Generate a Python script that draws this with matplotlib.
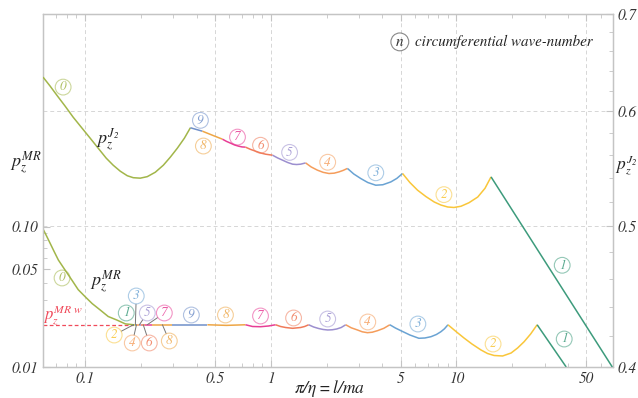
# Buckling pressure envelopes, p_z^J2 (right axis) and p_z^MR (left axis)
import matplotlib as mpl
import matplotlib.pyplot as plt
import matplotlib.ticker as mtick
from matplotlib.colors import to_rgba

mpl.rcParams['font.family'] = 'STIXGeneral'
mpl.rcParams['mathtext.fontset'] = 'stix'
mpl.rcParams['font.style'] = 'italic'
mpl.rcParams['font.size'] = 10.5

# colour of each circumferential wave-number n
mode_colors = {0: '#a2b64a', 1: '#3d9b7c', 2: '#f9c63a', 3: '#6aa3d3', 4: '#f59d5b',
               5: '#9c8fcf', 6: '#f07b5a', 7: '#e83e96', 8: '#eea645', 9: '#6f8fc9'}

# upper curve p_z^J2 (right axis), one segment per mode
j2_modes = [0, 9, 8, 7, 6, 5, 4, 3, 2, 1]
j2_x = [[0.0597, 0.0652, 0.0711, 0.0785, 0.0867, 0.0958, 0.1071, 0.1182, 0.1306, 0.1424,
         0.1554, 0.1695, 0.1826, 0.1991, 0.2172, 0.2399, 0.2650, 0.2890, 0.3153, 0.3439, 0.3705],
        [0.3705, 0.4300],
        [0.4300, 0.4869, 0.5510],
        [0.5510, 0.5793, 0.6091, 0.6395, 0.6722, 0.7022, 0.7330],
        [0.7330, 0.7800, 0.830, 0.8834, 0.940, 1.025],
        [1.025, 1.091, 1.161, 1.235, 1.314, 1.381, 1.451, 1.544],
        [1.544, 1.653, 1.786, 1.919, 2.062, 2.199, 2.334, 2.459, 2.591],
        [2.591, 2.802, 3.056, 3.334, 3.681, 4.017, 4.436, 4.778, 5.129],
        [5.129, 5.615, 6.177, 6.848, 7.591, 8.250, 8.966, 9.694, 10.575, 11.679, 13.014, 14.241, 15.346],
        [15.346, 68.9]]
j2_y = [[0.6334, 0.6244, 0.6151, 0.6049, 0.5944, 0.5851, 0.5749, 0.5659, 0.5570, 0.5508,
         0.5456, 0.5417, 0.5400, 0.5396, 0.5409, 0.5447, 0.5508, 0.5579, 0.5659, 0.5749, 0.5845],
        [0.5845, 0.5813],
        [0.5813, 0.5776, 0.5740],
        [0.5740, 0.5720, 0.5704, 0.5688, 0.5677, 0.5670, 0.5668],
        [0.5668, 0.5648, 0.5632, 0.5616, 0.5605, 0.5596],
        [0.5596, 0.5572, 0.5552, 0.5532, 0.5517, 0.5514, 0.5517, 0.5528],
        [0.5528, 0.5493, 0.5465, 0.5446, 0.5436, 0.5439, 0.5450, 0.5463, 0.5480],
        [0.5480, 0.5432, 0.5393, 0.5359, 0.5336, 0.5340, 0.5364, 0.5394, 0.5436],
        [0.5436, 0.5359, 0.5294, 0.5241, 0.5196, 0.5171, 0.5155, 0.5151, 0.5161, 0.5190, 0.5237, 0.5310, 0.5407],
        [0.5407, 0.4]]

# lower curve p_z^MR (left axis)
mr_modes = [0, 1, 2, 3, 4, 5, 6, 7, 8, 9, 8, 7, 6, 5, 4, 3, 2, 1]
mr_x = [[0.0597, 0.0620, 0.0652, 0.0685, 0.0722, 0.0775, 0.0853, 0.0923, 0.1006, 0.1098,
         0.1212, 0.1339, 0.1492, 0.1653, 0.1830],
        [0.1830, 0.1850], [0.1850, 0.1874], [0.1874, 0.1900], [0.1900, 0.1969],
        [0.1969, 0.2016], [0.2016, 0.2119], [0.2119, 0.2303], [0.2303, 0.2962],
        [0.2962, 0.4574],
        [0.4574, 0.579, 0.733],
        [0.733, 0.800, 0.883, 0.9755, 1.064],
        [1.064, 1.132, 1.205, 1.314, 1.451, 1.525, 1.603],
        [1.603, 1.705, 1.815, 1.919, 2.029, 2.146, 2.269, 2.399, 2.537],
        [2.537, 2.716, 2.934, 3.113, 3.321, 3.526, 3.760, 4.067, 4.381],
        [4.381, 4.691, 5.022, 5.615, 6.278, 6.765, 7.289, 7.801, 8.250, 8.616, 9.000],
        [9.000, 9.938, 10.975, 12.121, 13.554, 14.693, 15.93, 17.70, 19.67, 21.32, 23.11, 25.06, 27.16],
        [27.16, 38.93]]
mr_y = [[0.0963, 0.0873, 0.0762, 0.0666, 0.0579, 0.0503, 0.0417, 0.0356, 0.0317, 0.0283,
         0.0255, 0.0229, 0.0216, 0.0203, 0.0200],
        [0.02, 0.02], [0.02, 0.02], [0.02, 0.02], [0.02, 0.02],
        [0.02, 0.02], [0.02, 0.02], [0.02, 0.02], [0.02, 0.02],
        [0.02, 0.02],
        [0.02, 0.0198, 0.02],
        [0.02, 0.01944, 0.01937, 0.0196, 0.02],
        [0.02, 0.01944, 0.01912, 0.01887, 0.01912, 0.01944, 0.02],
        [0.02, 0.01928, 0.01881, 0.01851, 0.01836, 0.01842, 0.01866, 0.01912, 0.02],
        [0.02, 0.01903, 0.01836, 0.01782, 0.01756, 0.01770, 0.01815, 0.01887, 0.02],
        [0.02, 0.01897, 0.01815, 0.01691, 0.01602, 0.01610, 0.01644, 0.01705, 0.01785, 0.01872, 0.02],
        [0.02, 0.01791, 0.01610, 0.01458, 0.01322, 0.01248, 0.01208, 0.01198, 0.01258, 0.01366,
         0.01514, 0.01719, 0.02],
        [0.02, 0.01]]

pz_mr_w = 0.02
pz_mr_w_x = [0.0597, 0.1830]

# circled mode labels: (mode, x, y)
j2_labels = [(0, 0.0766, 0.6234), (9, 0.4195, 0.5914), (8, 0.4352, 0.5678),
             (7, 0.6639, 0.5759), (6, 0.883, 0.5685), (5, 1.266, 0.5621),
             (4, 2.029, 0.5534), (3, 3.681, 0.5442), (2, 8.56, 0.5257), (1, 37.05, 0.470)]
mr_labels = [(0, 0.0756, 0.0431), (1, 0.1674, 0.02426), (9, 0.375, 0.02348),
             (8, 0.572, 0.02348), (7, 0.883, 0.0231), (6, 1.33, 0.02235),
             (5, 2.029, 0.02198), (4, 3.334, 0.02093), (3, 6.20, 0.02025),
             (2, 15.74, 0.01458), (1, 37.98, 0.01583)]
# labels with leader lines: (mode, x, y, x on curve)
mr_leaders = [(3, 0.1895, 0.03207, 0.1874), (5, 0.2173, 0.02426, 0.197),
              (7, 0.2683, 0.02426, 0.217), (2, 0.1442, 0.0169, 0.1830),
              (4, 0.1804, 0.01483, 0.190), (6, 0.2227, 0.01483, 0.2066),
              (8, 0.2854, 0.01532, 0.262)]

grey = '#c4c4c4'


def circ_box(c):
    return dict(boxstyle='circle,pad=0.12', fc='none', ec=to_rgba(c, 0.55), lw=0.8)


fig = plt.figure(figsize=(6.38, 3.98), dpi=100)
ax = fig.add_axes([43 / 638, 31 / 398, 570 / 638, 353 / 398])
ax2 = ax.twinx()

ax.set_xscale('log')
ax.set_yscale('log')
ax2.set_yscale('log')
ax.set_xlim(0.0597, 69.5)
ax.set_ylim(0.01, 3.28)
ax2.set_ylim(0.4, 0.7)

for n, xs, ys in zip(mr_modes, mr_x, mr_y):
    ax.plot(xs, ys, color=mode_colors[n], lw=1.1, solid_capstyle='butt', zorder=3)
for n, xs, ys in zip(j2_modes, j2_x, j2_y):
    ax2.plot(xs, ys, color=mode_colors[n], lw=1.1, solid_capstyle='butt', zorder=3)

ax.plot(pz_mr_w_x, [pz_mr_w, pz_mr_w], color='#f04a5a', lw=0.9, ls=(0, (3, 2)), zorder=2)

for n, x, y in mr_labels:
    c = mode_colors[n]
    ax.text(x, y, str(n), color=to_rgba(c, 0.85), ha='center', va='center',
            fontsize=9.5, bbox=circ_box(c), zorder=4)
for n, x, y, xc in mr_leaders:
    c = mode_colors[n]
    ax.annotate(str(n), xy=(xc, pz_mr_w), xytext=(x, y), color=to_rgba(c, 0.85),
                ha='center', va='center', fontsize=9.5, bbox=circ_box(c), zorder=4,
                arrowprops=dict(arrowstyle='-', color='#777777', lw=0.7, shrinkA=0, shrinkB=0))
for n, x, y in j2_labels:
    c = mode_colors[n]
    ax2.text(x, y, str(n), color=to_rgba(c, 0.85), ha='center', va='center',
             fontsize=9.5, bbox=circ_box(c), zorder=4)

# curve names
ax2.text(0.1322, 0.5732, r'$p_z^{J_2}$', fontsize=13, ha='center', va='center', color='#222222')
ax.text(0.1292, 0.0404, r'$p_z^{MR}$', fontsize=13, ha='center', va='center', color='#222222')
ax.text(0.0766, 0.0235, r'$p_z^{MR\ w}$', fontsize=12, ha='center', va='center', color='#f04a5a')
ax.text(-0.03, 0.578, r'$p_z^{MR}$', transform=ax.transAxes, fontsize=13,
        ha='center', va='center', color='#222222')
ax.text(1.042, 0.572, r'$p_z^{J_2}$', transform=ax.transAxes, fontsize=12.5,
        ha='right', va='center', color='#222222')
ax.text(0.5035, -0.06, r'$\pi/\eta = l/ma$', transform=ax.transAxes, fontsize=12.5,
        ha='center', va='center', color='#222222')

# wave-number legend
ax.text(0.626, 0.921, r'$n$', transform=ax.transAxes, fontsize=11, ha='center', va='center',
        color='#333333', bbox=dict(boxstyle='circle,pad=0.12', fc='none', ec='#888888', lw=0.8))
ax.text(0.652, 0.921, 'circumferential wave-number', transform=ax.transAxes, fontsize=10.8,
        ha='left', va='center', color='#222222')

# ticks
ax.xaxis.set_major_locator(mtick.FixedLocator([0.1, 0.5, 1, 5, 10, 50]))
ax.xaxis.set_major_formatter(mtick.FixedFormatter(['0.1', '0.5', '1', '5', '10', '50']))
ax.xaxis.set_minor_locator(mtick.LogLocator(base=10, subs=range(2, 10), numticks=20))
ax.xaxis.set_minor_formatter(mtick.NullFormatter())
ax.yaxis.set_major_locator(mtick.FixedLocator([0.01, 0.05, 0.1]))
ax.yaxis.set_major_formatter(mtick.FixedFormatter(['0.01', '0.05', '0.10']))
ax.yaxis.set_minor_locator(mtick.FixedLocator([0.02, 0.03, 0.04, 0.06, 0.07, 0.08, 0.09]))
ax.yaxis.set_minor_formatter(mtick.NullFormatter())
ax2.yaxis.set_major_locator(mtick.FixedLocator([0.4, 0.5, 0.6, 0.7]))
ax2.yaxis.set_major_formatter(mtick.FixedFormatter(['0.4', '0.5', '0.6', '0.7']))
ax2.yaxis.set_minor_locator(mtick.FixedLocator([0.42, 0.44, 0.46, 0.48, 0.52, 0.54, 0.56,
                                                0.58, 0.62, 0.64, 0.66, 0.68]))
ax2.yaxis.set_minor_formatter(mtick.NullFormatter())

ax.tick_params(which='both', direction='in', top=True, right=False, color=grey,
               labelcolor='#333333', labelsize=11)
ax.tick_params(which='major', length=5, width=0.8)
ax.tick_params(which='minor', length=3, width=0.6)
ax2.tick_params(which='both', direction='in', color=grey, labelcolor='#333333', labelsize=11)
ax2.tick_params(which='major', length=5, width=0.8)
ax2.tick_params(which='minor', length=3, width=0.6)

for a in (ax, ax2):
    for s in a.spines.values():
        s.set_color(grey)
        s.set_linewidth(0.9)

ax.grid(which='major', axis='x', color='#d6d6d6', ls=(0, (4, 3)), lw=0.7)
ax2.grid(which='major', axis='y', color='#d6d6d6', ls=(0, (4, 3)), lw=0.7)
ax.set_axisbelow(True)
ax2.set_axisbelow(True)

plt.savefig('out.png', dpi=100)
